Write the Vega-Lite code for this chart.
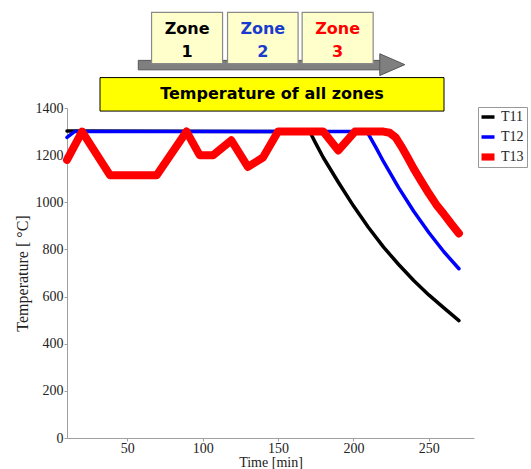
{
  "$schema": "https://vega.github.io/schema/vega-lite/v6.json",
  "width": 407,
  "height": 330,
  "autosize": {"type": "none"},
  "padding": {"left": 67, "top": 108, "right": 57, "bottom": 31},
  "background": "white",
  "config": {
    "view": {"stroke": null},
    "font": "Liberation Serif",
    "style": {
      "guide-label": {"font": "Liberation Serif", "fontSize": 14, "fill": "#222222"},
      "guide-title": {"font": "Liberation Serif", "fontSize": 15, "fontWeight": "normal", "fill": "#222222"}
    },
    "axis": {
      "grid": false, "domainColor": "#a0a0a0", "tickColor": "#a0a0a0", "tickSize": 3,
      "labelFont": "Liberation Serif", "labelFontSize": 14, "labelColor": "#222222", "labelPadding": 1,
      "titleFont": "Liberation Serif", "titleFontSize": 15, "titleFontWeight": "normal", "titleColor": "#222222"
    }
  },
  "datasets": {
    "temps": [
      {"series": "T11", "time": 10, "temp": 1302},
      {"series": "T11", "time": 171, "temp": 1300},
      {"series": "T11", "time": 175, "temp": 1250},
      {"series": "T11", "time": 180, "temp": 1190},
      {"series": "T11", "time": 190, "temp": 1085},
      {"series": "T11", "time": 200, "temp": 985},
      {"series": "T11", "time": 210, "temp": 893},
      {"series": "T11", "time": 220, "temp": 810},
      {"series": "T11", "time": 230, "temp": 736},
      {"series": "T11", "time": 240, "temp": 668},
      {"series": "T11", "time": 250, "temp": 607},
      {"series": "T11", "time": 260, "temp": 552},
      {"series": "T11", "time": 270, "temp": 498},
      {"series": "T12", "time": 10, "temp": 1275},
      {"series": "T12", "time": 15, "temp": 1300},
      {"series": "T12", "time": 209, "temp": 1300},
      {"series": "T12", "time": 215, "temp": 1232},
      {"series": "T12", "time": 220, "temp": 1172},
      {"series": "T12", "time": 230, "temp": 1062},
      {"series": "T12", "time": 240, "temp": 962},
      {"series": "T12", "time": 250, "temp": 872},
      {"series": "T12", "time": 260, "temp": 790},
      {"series": "T12", "time": 270, "temp": 718},
      {"series": "T13", "time": 10, "temp": 1180},
      {"series": "T13", "time": 20, "temp": 1300},
      {"series": "T13", "time": 38.5, "temp": 1115},
      {"series": "T13", "time": 69.5, "temp": 1115},
      {"series": "T13", "time": 89.3, "temp": 1300},
      {"series": "T13", "time": 98, "temp": 1200},
      {"series": "T13", "time": 107, "temp": 1200},
      {"series": "T13", "time": 119, "temp": 1263},
      {"series": "T13", "time": 130, "temp": 1150},
      {"series": "T13", "time": 140, "temp": 1190},
      {"series": "T13", "time": 150, "temp": 1300},
      {"series": "T13", "time": 180, "temp": 1300},
      {"series": "T13", "time": 190, "temp": 1220},
      {"series": "T13", "time": 201, "temp": 1300},
      {"series": "T13", "time": 220, "temp": 1300},
      {"series": "T13", "time": 224, "temp": 1295},
      {"series": "T13", "time": 228, "temp": 1275},
      {"series": "T13", "time": 232, "temp": 1235},
      {"series": "T13", "time": 236, "temp": 1190},
      {"series": "T13", "time": 240, "temp": 1143},
      {"series": "T13", "time": 245, "temp": 1090},
      {"series": "T13", "time": 250, "temp": 1038},
      {"series": "T13", "time": 255, "temp": 990},
      {"series": "T13", "time": 260, "temp": 950},
      {"series": "T13", "time": 265, "temp": 908},
      {"series": "T13", "time": 270, "temp": 868}
    ],
    "zones": [
      {"zone": "Zone 1", "label": "Zone\n1", "t0": 66.1, "t1": 113.2, "tc": 89.7, "b0": 1588, "b1": 1806, "bc": 1736},
      {"zone": "Zone 2", "label": "Zone\n2", "t0": 116.5, "t1": 163.3, "tc": 139.9, "b0": 1588, "b1": 1806, "bc": 1736},
      {"zone": "Zone 3", "label": "Zone\n3", "t0": 166.0, "t1": 213.1, "tc": 189.5, "b0": 1588, "b1": 1806, "bc": 1736}
    ],
    "shaft": [
      {"t0": 57.3, "t1": 218, "b0": 1562, "b1": 1602}
    ],
    "head": [
      {"t": 217.5, "top": 1630, "bot": 1538},
      {"t": 234.1, "top": 1584, "bot": 1584}
    ],
    "banner": [
      {"label": "Temperature of all zones", "t0": 31.9, "t1": 260.1, "tc": 146, "b0": 1387, "b1": 1529, "bc": 1458}
    ]
  },
  "layer": [
    {
      "data": {"name": "temps"},
      "mark": {"type": "line", "strokeJoin": "round", "strokeCap": "round"},
      "encoding": {
        "x": {
          "field": "time", "type": "quantitative", "title": "Time [min]",
          "scale": {"domain": [10, 280], "nice": false},
          "axis": {"values": [50, 100, 150, 200, 250], "format": "d", "titlePadding": 0, "titleFontSize": 14, "labelPadding": 0}
        },
        "y": {
          "field": "temp", "type": "quantitative", "title": "Temperature [ °C]",
          "scale": {"domain": [0, 1400], "nice": false},
          "axis": {"values": [0, 200, 400, 600, 800, 1000, 1200, 1400], "format": "d", "titlePadding": 5, "titleFontSize": 16}
        },
        "color": {
          "field": "series", "type": "nominal",
          "scale": {"domain": ["T11", "T12", "T13"], "range": ["#000000", "#0000ff", "#ff0000"]},
          "legend": {
            "title": null, "orient": "none", "legendX": 411, "legendY": -1,
            "strokeColor": "#999999", "fillColor": "#ffffff", "padding": 3,
            "symbolType": "M-1,-0.27H1V0.27H-1Z", "symbolSize": 169, "symbolStrokeWidth": 0, "rowPadding": 6,
            "labelFont": "Liberation Serif", "labelFontSize": 14, "labelColor": "#222222", "labelOffset": 6,
            "encode": {"symbols": {"update": {
              "shape": {"signal": "datum.value === 'T13' ? 'M-1,-0.55H1V0.55H-1Z' : 'M-1,-0.27H1V0.27H-1Z'"},
              "fill": {"signal": "datum.value === 'T11' ? '#000000' : datum.value === 'T12' ? '#0000ff' : '#ff0000'"},
              "strokeWidth": {"value": 0}
            }}}
          }
        },
        "strokeWidth": {"condition": {"test": "datum.series === 'T13'", "value": 8}, "value": 3.5}
      }
    },
    {
      "data": {"name": "banner"},
      "mark": {"type": "rect", "fill": "#ffff00", "stroke": "#000000", "strokeWidth": 1},
      "encoding": {
        "x": {"field": "t0", "type": "quantitative", "title": "Time [min]"},
        "x2": {"field": "t1"},
        "y": {"field": "b0", "type": "quantitative", "title": "Temperature [ °C]"},
        "y2": {"field": "b1"}
      }
    },
    {
      "data": {"name": "banner"},
      "mark": {"type": "text", "font": "DejaVu Sans", "fontWeight": "bold", "fontSize": 16, "align": "center", "baseline": "middle", "color": "#000000"},
      "encoding": {
        "x": {"field": "tc", "type": "quantitative", "title": "Time [min]"},
        "y": {"field": "bc", "type": "quantitative", "title": "Temperature [ °C]"},
        "text": {"field": "label"}
      }
    },
    {
      "data": {"name": "shaft"},
      "mark": {"type": "rect", "fill": "#7f7f7f", "stroke": "#555555", "strokeWidth": 1},
      "encoding": {
        "x": {"field": "t0", "type": "quantitative", "title": "Time [min]"},
        "x2": {"field": "t1"},
        "y": {"field": "b0", "type": "quantitative", "title": "Temperature [ °C]"},
        "y2": {"field": "b1"}
      }
    },
    {
      "data": {"name": "head"},
      "mark": {"type": "area", "fill": "#7f7f7f", "stroke": "#555555", "strokeWidth": 1, "orient": "vertical"},
      "encoding": {
        "x": {"field": "t", "type": "quantitative", "title": "Time [min]"},
        "y": {"field": "top", "type": "quantitative", "title": "Temperature [ °C]"},
        "y2": {"field": "bot"}
      }
    },
    {
      "data": {"name": "zones"},
      "mark": {"type": "rect", "fill": "#ffffcc", "stroke": "#8a8a8a", "strokeWidth": 1.2},
      "encoding": {
        "x": {"field": "t0", "type": "quantitative", "title": "Time [min]"},
        "x2": {"field": "t1"},
        "y": {"field": "b0", "type": "quantitative", "title": "Temperature [ °C]"},
        "y2": {"field": "b1"}
      }
    },
    {
      "data": {"name": "zones"},
      "mark": {"type": "text", "font": "DejaVu Sans", "fontWeight": "bold", "fontSize": 16, "align": "center", "baseline": "middle", "lineBreak": "\n", "lineHeight": 23},
      "encoding": {
        "x": {"field": "tc", "type": "quantitative", "title": "Time [min]"},
        "y": {"field": "bc", "type": "quantitative", "title": "Temperature [ °C]"},
        "text": {"field": "label"},
        "color": {"field": "zone", "type": "nominal", "scale": {"domain": ["Zone 1", "Zone 2", "Zone 3"], "range": ["#000000", "#1a3ccc", "#ff0000"]}, "legend": null}
      }
    }
  ],
  "resolve": {"scale": {"color": "independent"}}
}
